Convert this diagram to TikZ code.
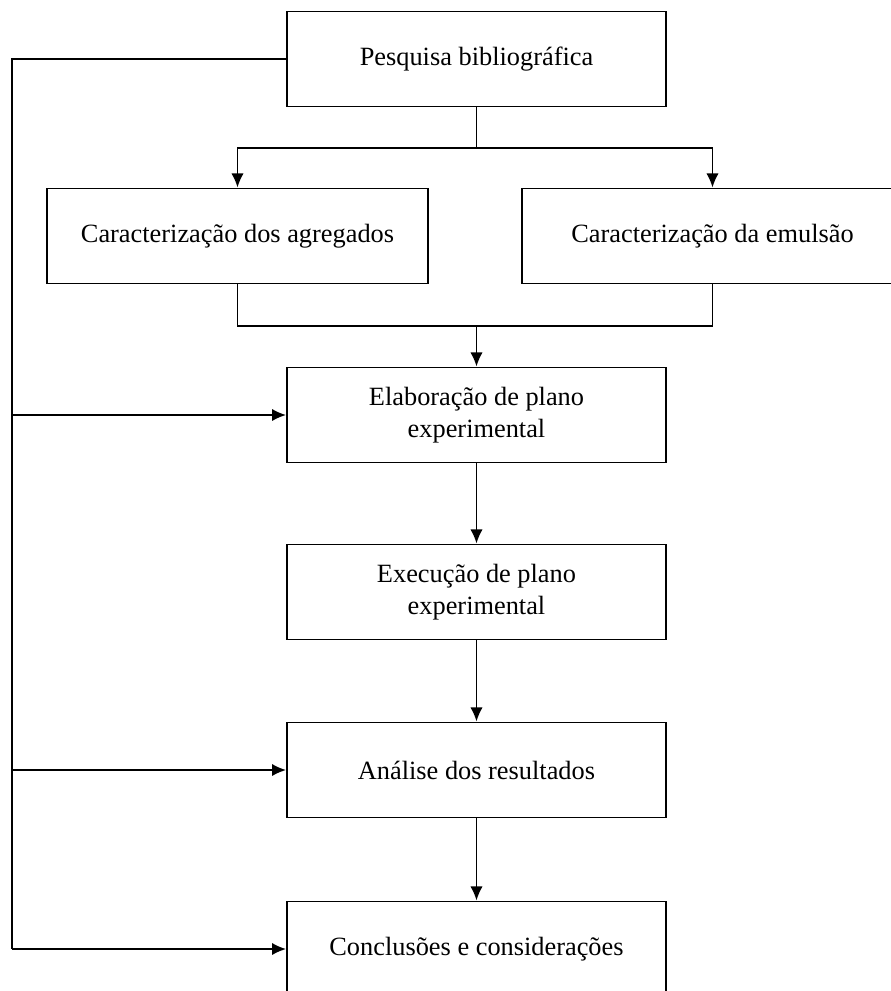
\documentclass[tikz,border=0pt]{standalone}
\usepackage{fontspec}
\setmainfont{Liberation Serif}
\usetikzlibrary{arrows.meta}
\tikzset{
  etapa/.style={draw, line width=1.1pt, minimum width=7.58cm, minimum height=1.9cm,
    align=center, inner sep=0pt, font=\fontsize{15}{18}\selectfont},
  linha/.style={line width=1pt},
  seta/.style={line width=1pt, -{Latex[length=8pt,width=7pt]}},
}
\begin{document}
\begin{tikzpicture}[x=0.02cm,y=-0.02cm]
\useasboundingbox (0,0) rectangle (891,991);
\clip (0,0) rectangle (891,991);
% etapas
\node[etapa] (pesq) at (476.5,59) {Pesquisa bibliográfica};
\node[etapa, minimum width=7.62cm] (agreg) at (237.5,236) {Caracterização dos agregados};
\node[etapa, minimum width=7.62cm] (emul) at (712.5,236) {Caracterização da emulsão};
\node[etapa] (elab) at (476.5,415) {Elaboração de plano\\experimental};
\node[etapa] (exec) at (476.5,592) {Execução de plano\\experimental};
\node[etapa] (anal) at (476.5,770) {Análise dos resultados};
\node[etapa] (concl) at (476.5,949) {Conclusões e considerações};
% ramos
\coordinate (div) at (476.5,148);
\coordinate (jun) at (476.5,326);
\draw[linha] (pesq.south) -- (div);
\draw[seta] (div) -| (agreg.north);
\draw[seta] (div) -| (emul.north);
\draw[linha] (agreg.south) |- (jun) -| (emul.south);
\draw[seta] (jun) -- (elab.north);
\draw[seta] (elab) -- (exec);
\draw[seta] (exec) -- (anal);
\draw[seta] (anal) -- (concl);
% retorno pela esquerda
\coordinate (esq) at (12,59);
\draw[linha] (pesq.west) -- (esq) -- (esq |- concl.west);
\draw[seta] (esq |- elab.west) -- (elab.west);
\draw[seta] (esq |- anal.west) -- (anal.west);
\draw[seta] (esq |- concl.west) -- (concl.west);
\end{tikzpicture}
\end{document}
